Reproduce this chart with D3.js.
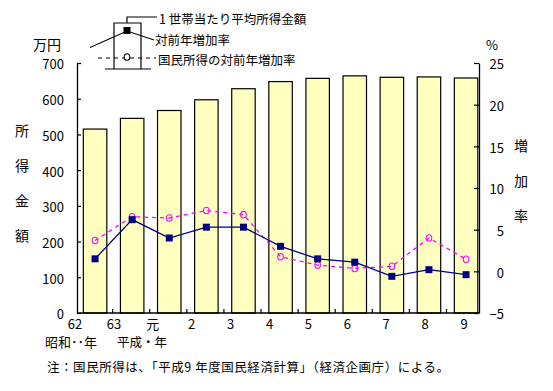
<!DOCTYPE html>
<html><head><meta charset="utf-8">
<script src="https://cdn.jsdelivr.net/npm/d3@7"></script>
<style>
body{margin:0;background:#fff;}
text{font-family:"Noto Sans CJK JP","Noto Sans",sans-serif;fill:#000;}
</style></head>
<body><svg id="c" width="553" height="391"></svg>
<script>
const categories = ["62","63","元","2","3","4","5","6","7","8","9"];
const income = [515, 545, 567, 597, 628, 648, 657, 664, 660, 661, 658];
const incomeGrowth = [1.5, 6.2, 4.0, 5.3, 5.3, 3.0, 1.5, 1.1, -0.6, 0.2, -0.4];
const nationalGrowth = [3.7, 6.55, 6.4, 7.3, 6.8, 1.75, 0.75, 0.35, 0.6, 4.0, 1.45];
const leftTicks = [0,100,200,300,400,500,600,700];
const rightTicks = [-5,0,5,10,15,20,25];
const leftTitle = "所得金額";
const rightTitle = "増加率";
const legendLabels = ["1 世帯当たり平均所得金額","対前年増加率","国民所得の対前年増加率"];
const unitLeft = "万円", unitRight = "%";
const eraLabels = ["昭和･･年","平成・年"];
const note = "注：国民所得は、「平成9 年度国民経済計算」（経済企画庁）による。";

const svg = d3.select("#c");
const L = 77, R = 479, T = 63, B = 313;
const yL = d3.scaleLinear().domain([0,700]).range([B,T]);
const yR = d3.scaleLinear().domain([-5,25]).range([B,T]);
const x = d3.scaleBand().domain(categories).range([L,R]).paddingInner(0.367).paddingOuter(0.1015).align(0.84);
const xl = d3.scalePoint().domain(categories).range([75,464]);
const cx = c => x(c) + x.bandwidth()/2;

// bars
svg.append("g").selectAll("rect").data(categories).join("rect")
  .attr("x", c => x(c)).attr("width", x.bandwidth())
  .attr("y", (c,i) => yL(income[i])).attr("height", (c,i) => yL(0)-yL(income[i]))
  .attr("fill","#ffffc0").attr("stroke","#000").attr("stroke-width",1.2);

// left axis
const gl = svg.append("g").attr("transform",`translate(${L},0)`)
  .call(d3.axisLeft(yL).tickValues(leftTicks).tickSizeInner(-4).tickSizeOuter(0).tickPadding(13));
gl.select(".domain").attr("stroke","#000").attr("stroke-width",1.3);
gl.selectAll(".tick line").attr("stroke","#000").attr("stroke-width",1.2);
gl.selectAll(".tick text").attr("font-size",13).attr("dy","0.45em").style("font-family","'Noto Sans CJK JP'");

// right axis
const gr = svg.append("g").attr("transform",`translate(${R},0)`)
  .call(d3.axisRight(yR).tickValues(rightTicks).tickSizeInner(-5).tickSizeOuter(0));
gr.select(".domain").attr("stroke","#000").attr("stroke-width",1.3);
gr.selectAll(".tick line").attr("stroke","#000").attr("stroke-width",1.2);
gr.selectAll(".tick text").attr("font-size",13).attr("text-anchor","end").attr("x",25).attr("dy","0.45em").style("font-family","'Noto Sans CJK JP'");

// bottom axis
svg.append("line").attr("x1",L).attr("x2",R).attr("y1",B).attr("y2",B).attr("stroke","#000").attr("stroke-width",1.3);
const step = x.step(), gap = step - x.bandwidth();
svg.append("g").selectAll("line").data(categories.slice(1)).join("line")
  .attr("x1", c => x(c) - gap/2 - 1).attr("x2", c => x(c) - gap/2 - 1)
  .attr("y1", B).attr("y2", B-4).attr("stroke","#000").attr("stroke-width",1.2);
svg.append("g").selectAll("text").data(categories).join("text")
  .attr("x", c => xl(c)).attr("y", B+16).attr("text-anchor","middle").attr("font-size",13).text(c => c);

// national income growth (magenta dashed)
const lineN = d3.line().x((d,i) => cx(categories[i])).y(d => yR(d));
svg.append("path").datum(nationalGrowth).attr("d", lineN)
  .attr("fill","none").attr("stroke","#ff00ff").attr("stroke-width",1.3).attr("stroke-dasharray","4,4");
svg.append("g").selectAll("ellipse").data(nationalGrowth).join("ellipse")
  .attr("cx",(d,i) => cx(categories[i])).attr("cy", d => yR(d)).attr("rx",2.8).attr("ry",3.3)
  .attr("fill","none").attr("stroke","#ff00ff").attr("stroke-width",1.1);

// income growth (navy)
const lineG = d3.line().x((d,i) => cx(categories[i])).y(d => yR(d));
svg.append("path").datum(incomeGrowth).attr("d", lineG)
  .attr("fill","none").attr("stroke","#000080").attr("stroke-width",1.3);
svg.append("g").selectAll("rect").data(incomeGrowth).join("rect")
  .attr("x",(d,i) => cx(categories[i]) - 3.5).attr("y", d => yR(d) - 3.5)
  .attr("width",7).attr("height",7).attr("fill","#000080");

// titles
svg.append("text").attr("x",47).attr("y",50).attr("text-anchor","middle").attr("font-size",14).text(unitLeft);
svg.append("text").attr("x",492).attr("y",50).attr("text-anchor","middle").attr("font-size",13).text(unitRight);
svg.append("g").selectAll("text").data(Array.from(leftTitle)).join("text")
  .attr("x",22).attr("y",(d,i) => 136 + i*35).attr("text-anchor","middle").attr("font-size",14).text(d => d);
svg.append("g").selectAll("text").data(Array.from(rightTitle)).join("text")
  .attr("x",521).attr("y",(d,i) => 151 + i*35).attr("text-anchor","middle").attr("font-size",14).text(d => d);
svg.append("text").attr("x",45).attr("y",347).attr("font-size",13).text(eraLabels[0]);
svg.append("text").attr("x",117).attr("y",347).attr("font-size",12.5).text(eraLabels[1]);
svg.append("text").attr("x",47).attr("y",372).attr("font-size",12.5).attr("textLength",402).attr("lengthAdjust","spacing").text(note);

// legend
const lg = svg.append("g");
lg.append("path").attr("d","M114,69V23H141V69").attr("fill","none").attr("stroke","#000").attr("stroke-width",1.2);
lg.append("line").attr("x1",105).attr("x2",151).attr("y1",69).attr("y2",69).attr("stroke","#000").attr("stroke-width",1.2);
lg.append("path").attr("d","M127,23V17H157").attr("fill","none").attr("stroke","#000").attr("stroke-width",1.2);
lg.append("path").attr("d","M90,47.5L127,31L154,40").attr("fill","none").attr("stroke","#000").attr("stroke-width",1.1);
lg.append("rect").attr("x",123.5).attr("y",27).attr("width",7).attr("height",7).attr("fill","#000");
lg.append("line").attr("x1",98).attr("x2",156).attr("y1",58).attr("y2",58).attr("stroke","#000").attr("stroke-width",1.1).attr("stroke-dasharray","4,4");
lg.append("ellipse").attr("cx",127).attr("cy",57).attr("rx",2.8).attr("ry",3.3).attr("fill","#fff").attr("stroke","#000").attr("stroke-width",1.1);
lg.append("text").attr("x",159).attr("y",23.5).attr("font-size",12.5).text(legendLabels[0]);
lg.append("text").attr("x",155).attr("y",44.5).attr("font-size",12.5).text(legendLabels[1]);
lg.append("text").attr("x",158).attr("y",64.5).attr("font-size",12.5).text(legendLabels[2]);
</script></body></html>
